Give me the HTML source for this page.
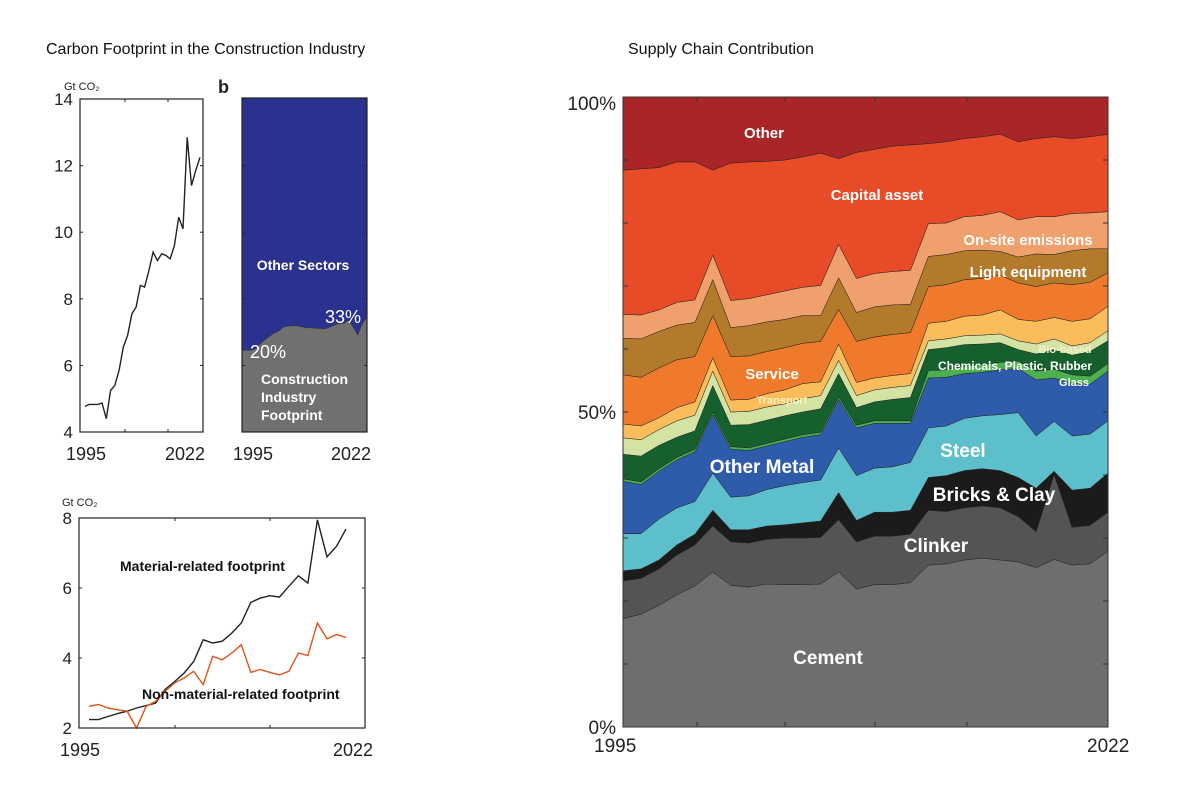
<!DOCTYPE html>
<html><head><meta charset="utf-8"><style>
html,body{margin:0;padding:0;background:#fff;}
svg{display:block;font-family:"Liberation Sans",sans-serif;}
</style></head><body>
<svg id="root" width="1200" height="800" viewBox="0 0 1200 800">
<text x="46" y="54" font-size="16" fill="#111">Carbon Footprint in the Construction Industry</text>
<text x="628" y="54" font-size="16" fill="#111">Supply Chain Contribution</text>
<g id="ga"></g>
<g id="gb"></g>
<g id="gc"></g>
<g id="gd"></g>
</svg>
<script>
const years = [1995,1996,1997,1998,1999,2000,2001,2002,2003,2004,2005,2006,2007,2008,2009,2010,2011,2012,2013,2014,2015,2016,2017,2018,2019,2020,2021,2022];
const totalFootprint = [4.77,4.83,4.83,4.83,4.87,4.4,5.25,5.4,5.85,6.55,6.9,7.55,7.75,8.4,8.35,8.85,9.4,9.15,9.35,9.3,9.2,9.6,10.45,10.1,12.85,11.4,11.85,12.25];
const constructionShare = [24.5,24.5,24.5,25,26.5,27.7,28.7,29.7,30.3,31.5,31.7,31.8,31.8,31.5,31.2,31.2,31,31,30.9,31.5,32,32.5,32.5,33.5,31.5,29,32.5,34.5];
const materialFootprint = [2.24,2.24,2.33,2.41,2.48,2.57,2.64,2.71,3.1,3.33,3.57,3.9,4.52,4.43,4.48,4.71,5.0,5.59,5.71,5.78,5.74,6.05,6.35,6.14,7.95,6.89,7.19,7.69];
const nonMaterialFootprint = [2.62,2.67,2.57,2.52,2.48,2.0,2.62,2.76,3.05,3.29,3.43,3.62,3.24,4.05,3.95,4.14,4.38,3.59,3.67,3.59,3.52,3.62,4.14,4.07,5.0,4.55,4.67,4.59];
const cement = [17.2,17.9,19.3,21.0,22.4,24.6,22.5,22.2,22.7,22.6,22.6,22.7,24.6,21.9,22.6,22.6,22.9,25.7,25.9,26.5,26.8,26.5,26.2,25.3,26.6,25.7,25.9,27.9];
const clinker = [6.0,5.7,5.8,6.3,6.5,7.3,6.9,7.0,7.1,7.4,7.4,7.4,8.3,7.5,7.7,7.7,7.7,8.7,8.3,8.3,8.3,8.3,7.2,5.7,13.5,6.0,6.1,6.2];
const bricks = [1.6,1.5,1.4,1.6,1.7,2.5,1.9,2.1,2.1,2.1,2.4,2.6,4.3,3.4,3.8,3.8,3.8,5.2,5.7,5.9,5.9,5.9,6.2,6.9,0.5,5.9,5.9,6.2];
const steel = [5.9,5.6,6.5,5.9,5.2,5.9,5.2,5.4,5.8,6.2,6.4,6.5,7.1,7.1,7.0,7.2,7.6,7.9,7.9,8.3,8.4,8.9,10.3,8.3,7.9,8.6,8.6,8.3];
const otherMetal = [8.3,7.8,7.6,7.6,7.9,9.3,7.6,7.2,6.9,7.0,7.2,7.2,7.7,7.6,7.1,6.9,6.2,7.9,7.7,7.1,6.9,7.1,7.0,8.9,6.9,8.3,7.9,7.9];
const glass = [0.4,0.4,0.4,0.4,0.4,0.4,0.4,0.4,0.4,0.4,0.4,0.4,0.4,0.4,0.4,0.4,0.4,1.2,1.2,1.2,1.2,1.2,1.2,1.4,1.4,1.4,1.3,1.2];
const chemicals = [3.9,4.1,3.7,3.2,2.9,4.2,3.4,3.7,3.7,3.7,3.6,3.7,3.7,2.8,3.0,3.4,3.7,3.3,3.5,3.4,3.3,3.1,1.8,2.7,3.1,3.1,3.9,3.6];
const bioBased = [2.6,2.6,2.5,2.6,2.5,2.3,2.1,2.1,2.1,1.9,2.1,2.1,2.1,1.9,1.9,1.9,1.9,1.4,1.4,1.4,1.4,1.4,1.4,1.6,1.7,1.5,1.4,1.6];
const transport = [2.2,2.2,1.9,2.1,2.1,2.1,1.9,1.9,2.1,2.2,2.4,2.2,2.6,2.1,1.9,1.9,1.9,2.8,2.8,3.1,3.2,3.8,3.4,3.6,3.4,3.9,3.8,3.9];
const service = [7.8,7.7,7.9,7.6,7.2,6.7,6.9,6.9,6.7,6.7,6.4,6.4,5.5,6.5,6.5,6.5,6.5,5.8,5.8,5.8,5.8,5.5,5.8,5.5,5.5,5.8,5.8,5.3];
const lightEquipment = [5.8,6.1,5.8,5.5,5.4,5.7,4.6,4.8,4.7,4.5,4.4,4.1,5.0,4.6,4.8,4.7,4.5,4.8,4.8,4.6,4.5,3.8,4.1,5.2,4.5,5.4,5.3,3.8];
const onSite = [3.8,3.8,3.4,3.6,3.6,3.9,4.3,4.3,4.3,4.5,4.5,4.8,5.3,5.4,5.3,5.3,5.4,5.2,5.0,5.4,5.5,6.3,5.9,5.9,6.0,5.9,5.7,5.9];
const otherShare = [11.6,11.4,11.2,10.3,10.3,11.6,10.5,10.3,10.2,10.0,9.5,8.9,9.8,8.8,8.3,7.8,7.6,7.4,7.1,6.6,6.3,5.9,7.1,6.6,6.3,6.6,6.3,5.9];
const ticksA = [4,6,8,10,12,14];
const ticksC = [2,4,6,8];

const NS='http://www.w3.org/2000/svg';
function mk(parent, tag, attrs, txt){const e=document.createElementNS(NS,tag);for(const k in attrs)e.setAttribute(k,attrs[k]);if(txt!==undefined)e.textContent=txt;parent.appendChild(e);return e;}
const n = years.length;

// ---------- Chart A ----------
const ga=document.getElementById('ga');
const aL=80,aR=203,aT=99,aB=432;
const ax=i=>85+i*(200-85)/(n-1);
const ay=v=>aB-(v-4)/10*(aB-aT);
ticksA.forEach(t=>{
  const y=ay(t);
  const tl=mk(ga,'text',{x:aL-7,y:y+6,'font-size':17,'text-anchor':'end',fill:'#222'},t);
  
  
  mk(ga,'line',{x1:aL,x2:aL+3,y1:y,y2:y,stroke:'#222'});
  mk(ga,'line',{x1:aR-3,x2:aR,y1:y,y2:y,stroke:'#222'});
});
[125,168].forEach(x=>{mk(ga,'line',{x1:x,x2:x,y1:aB,y2:aB-3,stroke:'#222'});mk(ga,'line',{x1:x,x2:x,y1:aT,y2:aT+3,stroke:'#222'});});
let s=totalFootprint.map((v,i)=>(i?'L':'M')+ax(i).toFixed(1)+','+ay(v).toFixed(1)).join('');
const la=mk(ga,'path',{d:s,fill:'none',stroke:'#222','stroke-width':1.4});


mk(ga,'rect',{x:aL,y:aT,width:aR-aL,height:aB-aT,fill:'none',stroke:'#222','stroke-width':1.2});
mk(ga,'text',{x:64,y:90,'font-size':11,fill:'#222'},'Gt CO₂');
mk(ga,'text',{x:66,y:460,'font-size':18,fill:'#222'},'1995');
mk(ga,'text',{x:165,y:460,'font-size':18,fill:'#222'},'2022');

// ---------- Chart B ----------
const gb=document.getElementById('gb');
const bL=242,bR=367,bT=98,bB=432;
const bx=i=>bL+i*(bR-bL)/(n-1);
const by=p=>bB-p/100*(bB-bT);
mk(gb,'rect',{x:bL,y:bT,width:bR-bL,height:bB-bT,fill:'#2a318f'});
let sb='M'+bL+','+bB+constructionShare.map((p,i)=>'L'+bx(i).toFixed(1)+','+by(p).toFixed(1)).join('')+'L'+bR+','+bB+'Z';
const ab=mk(gb,'path',{d:sb,fill:'#707070',stroke:'#333','stroke-width':0.6});


ticksA.forEach(t=>{const y=ay(t);mk(gb,'line',{x1:bL,x2:bL+3,y1:y,y2:y,stroke:'#222'});mk(gb,'line',{x1:bR-3,x2:bR,y1:y,y2:y,stroke:'#222'});});
mk(gb,'rect',{x:bL,y:bT,width:bR-bL,height:bB-bT,fill:'none',stroke:'#222','stroke-width':1.2});
mk(gb,'text',{x:218,y:93,'font-size':18,'font-weight':'bold',fill:'#222'},'b');
mk(gb,'text',{x:303,y:270,'font-size':14,'font-weight':'bold',fill:'#fff','text-anchor':'middle'},'Other Sectors');
mk(gb,'text',{x:250,y:358,'font-size':18,fill:'#fff'},'20%');
mk(gb,'text',{x:325,y:323,'font-size':18,fill:'#fff'},'33%');
['Construction','Industry','Footprint'].forEach((t,k)=>mk(gb,'text',{x:261,y:384+k*18,'font-size':14,'font-weight':'bold',fill:'#fff'},t));
mk(gb,'text',{x:233,y:460,'font-size':18,fill:'#222'},'1995');
mk(gb,'text',{x:331,y:460,'font-size':18,fill:'#222'},'2022');

// ---------- Chart C ----------
const gc=document.getElementById('gc');
const cL=79,cR=365,cT=518,cB=728;
const cx=i=>89+i*(346-89)/(n-1);
const cy=v=>cB-(v-2)/6*(cB-cT);
ticksC.forEach(t=>{
  const y=cy(t);
  mk(gc,'text',{x:cL-7,y:y+6,'font-size':17,'text-anchor':'end',fill:'#222'},t);
  mk(gc,'line',{x1:cL,x2:cL+3,y1:y,y2:y,stroke:'#222'});
  mk(gc,'line',{x1:cR-3,x2:cR,y1:y,y2:y,stroke:'#222'});
});
[175,270].forEach(x=>{mk(gc,'line',{x1:x,x2:x,y1:cB,y2:cB-3,stroke:'#222'});mk(gc,'line',{x1:x,x2:x,y1:cT,y2:cT+3,stroke:'#222'});});
const lc1=mk(gc,'path',{d:materialFootprint.map((v,i)=>(i?'L':'M')+cx(i).toFixed(1)+','+cy(v).toFixed(1)).join(''),fill:'none',stroke:'#222','stroke-width':1.4});


const lc2=mk(gc,'path',{d:nonMaterialFootprint.map((v,i)=>(i?'L':'M')+cx(i).toFixed(1)+','+cy(v).toFixed(1)).join(''),fill:'none',stroke:'#e0531c','stroke-width':1.4});


mk(gc,'rect',{x:cL,y:cT,width:cR-cL,height:cB-cT,fill:'none',stroke:'#222','stroke-width':1.2});
mk(gc,'text',{x:120,y:571,'font-size':14,'font-weight':'bold',fill:'#111'},'Material-related footprint');
mk(gc,'text',{x:142,y:699,'font-size':14,'font-weight':'bold',fill:'#111'},'Non-material-related footprint');
mk(gc,'text',{x:62,y:506,'font-size':11,fill:'#222'},'Gt CO₂');
mk(gc,'text',{x:60,y:756,'font-size':18,fill:'#222'},'1995');
mk(gc,'text',{x:333,y:756,'font-size':18,fill:'#222'},'2022');

// ---------- Chart D ----------
const gd=document.getElementById('gd');
const dL=623,dR=1108,dT=97,dB=727;
const dx=i=>dL+i*(dR-dL)/(n-1);
const dy=p=>dB-p/100*(dB-dT);
const capital = years.map((_,i)=>100-otherShare[i]-[cement,clinker,bricks,steel,otherMetal,glass,chemicals,bioBased,transport,service,lightEquipment,onSite].reduce((a,arr)=>a+arr[i],0));
const layers=[['cement',cement,'#6e6e6e'],['clinker',clinker,'#545454'],['bricks-clay',bricks,'#1b1b1b'],['steel',steel,'#5cbfcb'],['other-metal',otherMetal,'#2f5bab'],['glass',glass,'#4caf50'],['chemicals',chemicals,'#15602c'],['bio-based',bioBased,'#d3e3a3'],['transport',transport,'#fbbd5c'],['service',service,'#ef7a2c'],['light-equipment',lightEquipment,'#b27a2a'],['on-site-emissions',onSite,'#efa06c'],['capital-asset',capital,'#e84b27'],['other',otherShare,'#a92527']];
let base=years.map(()=>0);
layers.forEach(([name,arr,col])=>{
  const top=base.map((b,i)=>b+arr[i]);
  let d=top.map((p,i)=>(i?'L':'M')+dx(i).toFixed(1)+','+dy(p).toFixed(1)).join('');
  for(let i=n-1;i>=0;i--)d+='L'+dx(i).toFixed(1)+','+dy(base[i]).toFixed(1);
  const el=mk(gd,'path',{d:d+'Z',fill:col,stroke:'#222','stroke-width':0.5});
  
  
  base=top;
});
for(let p=0;p<=100;p+=10){const y=dy(p);mk(gd,'line',{x1:dL,x2:dL+5,y1:y,y2:y,stroke:'#333'});mk(gd,'line',{x1:dR-5,x2:dR,y1:y,y2:y,stroke:'#333'});}
[697,785,875,967].forEach(x=>{mk(gd,'line',{x1:x,x2:x,y1:dB,y2:dB-5,stroke:'#333'});mk(gd,'line',{x1:x,x2:x,y1:dT,y2:dT+5,stroke:'#333'});});
mk(gd,'rect',{x:dL,y:dT,width:dR-dL,height:dB-dT,fill:'none',stroke:'#333','stroke-width':1});
mk(gd,'text',{x:616,y:110,'font-size':19,'text-anchor':'end',fill:'#222'},'100%');
mk(gd,'text',{x:616,y:419,'font-size':19,'text-anchor':'end',fill:'#222'},'50%');
mk(gd,'text',{x:616,y:734,'font-size':19,'text-anchor':'end',fill:'#222'},'0%');
mk(gd,'text',{x:594,y:752,'font-size':19,fill:'#222'},'1995');
mk(gd,'text',{x:1087,y:752,'font-size':19,fill:'#222'},'2022');
const labs=[['Other',764,138,15,'#fff'],['Capital asset',877,200,15,'#fff'],['On-site emissions',1028,245,15,'#fff'],['Light equipment',1028,277,15,'#fff'],['Bio-based',1065,353,11,'#f2f2d0'],['Chemicals, Plastic, Rubber',1015,370,12,'#fff'],['Glass',1074,386,11,'#fff'],['Service',772,379,15,'#fff'],['Transport',782,404,11,'#fff3c0'],['Other Metal',762,473,19,'#fff'],['Steel',963,457,19,'#fff'],['Bricks & Clay',994,501,19,'#fff'],['Clinker',936,552,19,'#fff'],['Cement',828,664,19,'#fff']];
labs.forEach(([t,x,y,fs,c])=>{
  const e=mk(gd,'text',{x:x,y:y,'font-size':fs,'font-weight':'bold',fill:c,'text-anchor':'middle'},t);
  
  
});
</script>
</body></html>
